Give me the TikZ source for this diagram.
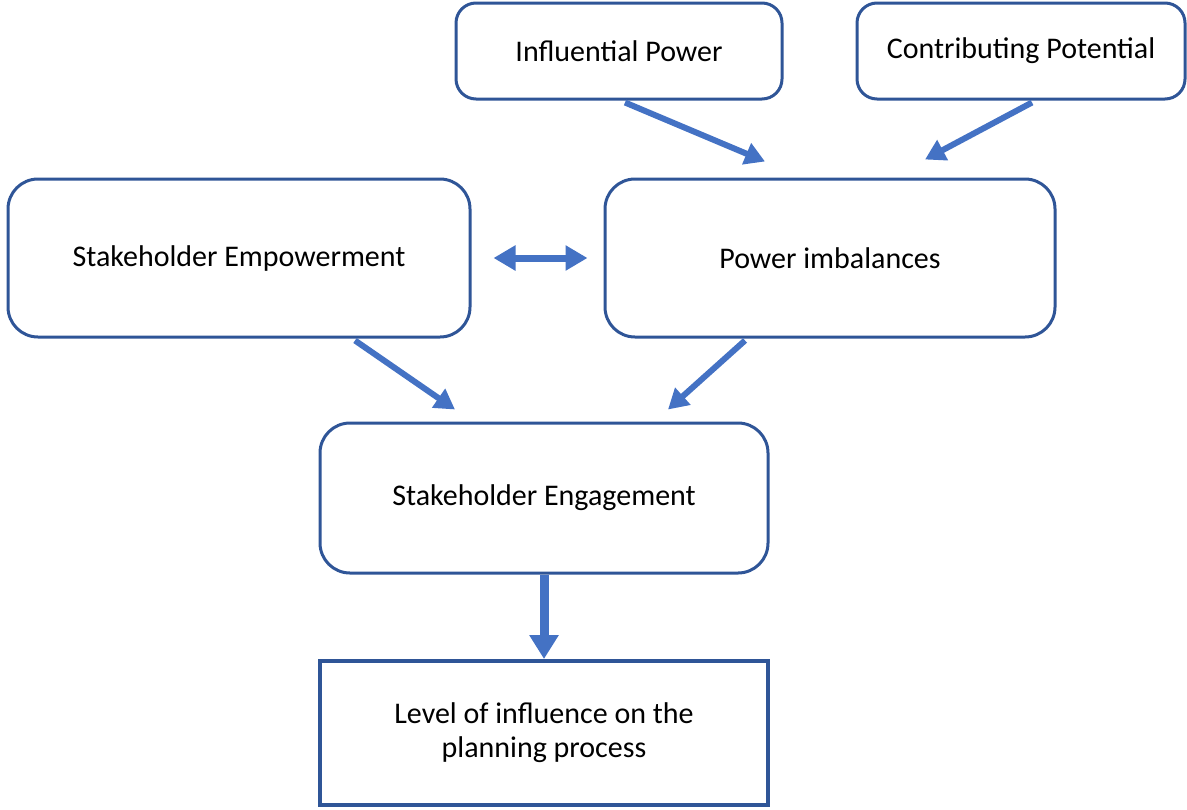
\documentclass[tikz,border=0pt]{standalone}
\usepackage{fontspec}
\setmainfont{Carlito}
\usepackage{tikz}
\usetikzlibrary{arrows.meta,positioning,calc}

\definecolor{boxline}{HTML}{2F5597}
\definecolor{flowblue}{HTML}{4472C4}

\tikzset{
    factor/.style={draw=boxline, line width=1.5pt, rounded corners=10pt,
        align=center, font=\fontsize{15}{17}\selectfont},
    outcome/.style={draw=boxline, line width=2pt, align=center,
        font=\fontsize{15}{17}\selectfont},
    flow/.style={-{Triangle[length=10pt,width=11pt]}, flowblue, line width=3pt},
}

\begin{document}
\begin{tikzpicture}[x=0.5pt,y=-0.5pt]
    \useasboundingbox (0,0) rectangle (1187,809);

    % top row
    \node[factor, minimum width=163pt, minimum height=48pt] (ip) at (619,51) {Influential Power};
    \node[factor, minimum width=164pt, minimum height=48pt] (cp) at (1021,51) {Contributing Potential};

    % middle row
    \node[factor, rounded corners=15pt, minimum width=231pt, minimum height=79pt] (emp) at (239,258) {Stakeholder Empowerment};
    \node[factor, rounded corners=15pt, minimum width=225pt, minimum height=79pt] (imb) at (830,258) {Power imbalances};

    % engagement and outcome
    \node[factor, rounded corners=15pt, minimum width=224pt, minimum height=75pt] (eng) at (544,498) {Stakeholder Engagement};
    \node[outcome, minimum width=224pt, minimum height=72pt] (lvl) at (544,733) {Level of influence on the\\planning process};

    % arrow tips that stop short of the boxes
    \coordinate (ipEnd) at ($(imb.north)+(-65,-16)$);
    \coordinate (cpEnd) at ($(imb.north)+(95,-18)$);
    \coordinate (empEnd) at ($(eng.north)+(-89,-12)$);
    \coordinate (imbEnd) at ($(eng.north)+(124,-12)$);

    \draw[flow] ($(ip.south)+(6,2)$) -- (ipEnd);
    \draw[flow] ($(cp.south)+(11,2)$) -- (cpEnd);
    \draw[flow] ($(emp.south)+(116,2)$) -- (empEnd);
    \draw[flow] ($(imb.south)+(-85,2)$) -- (imbEnd);
    \draw[{Triangle[length=11pt,width=12pt]}-{Triangle[length=11pt,width=12pt]}, flowblue, line width=3.5pt,
        shorten <=11pt, shorten >=8pt] (emp.east) -- (imb.west);
    \draw[-{Triangle[length=12pt,width=14pt]}, flowblue, line width=4.5pt] (eng.south) -- (lvl.north);
\end{tikzpicture}
\end{document}
